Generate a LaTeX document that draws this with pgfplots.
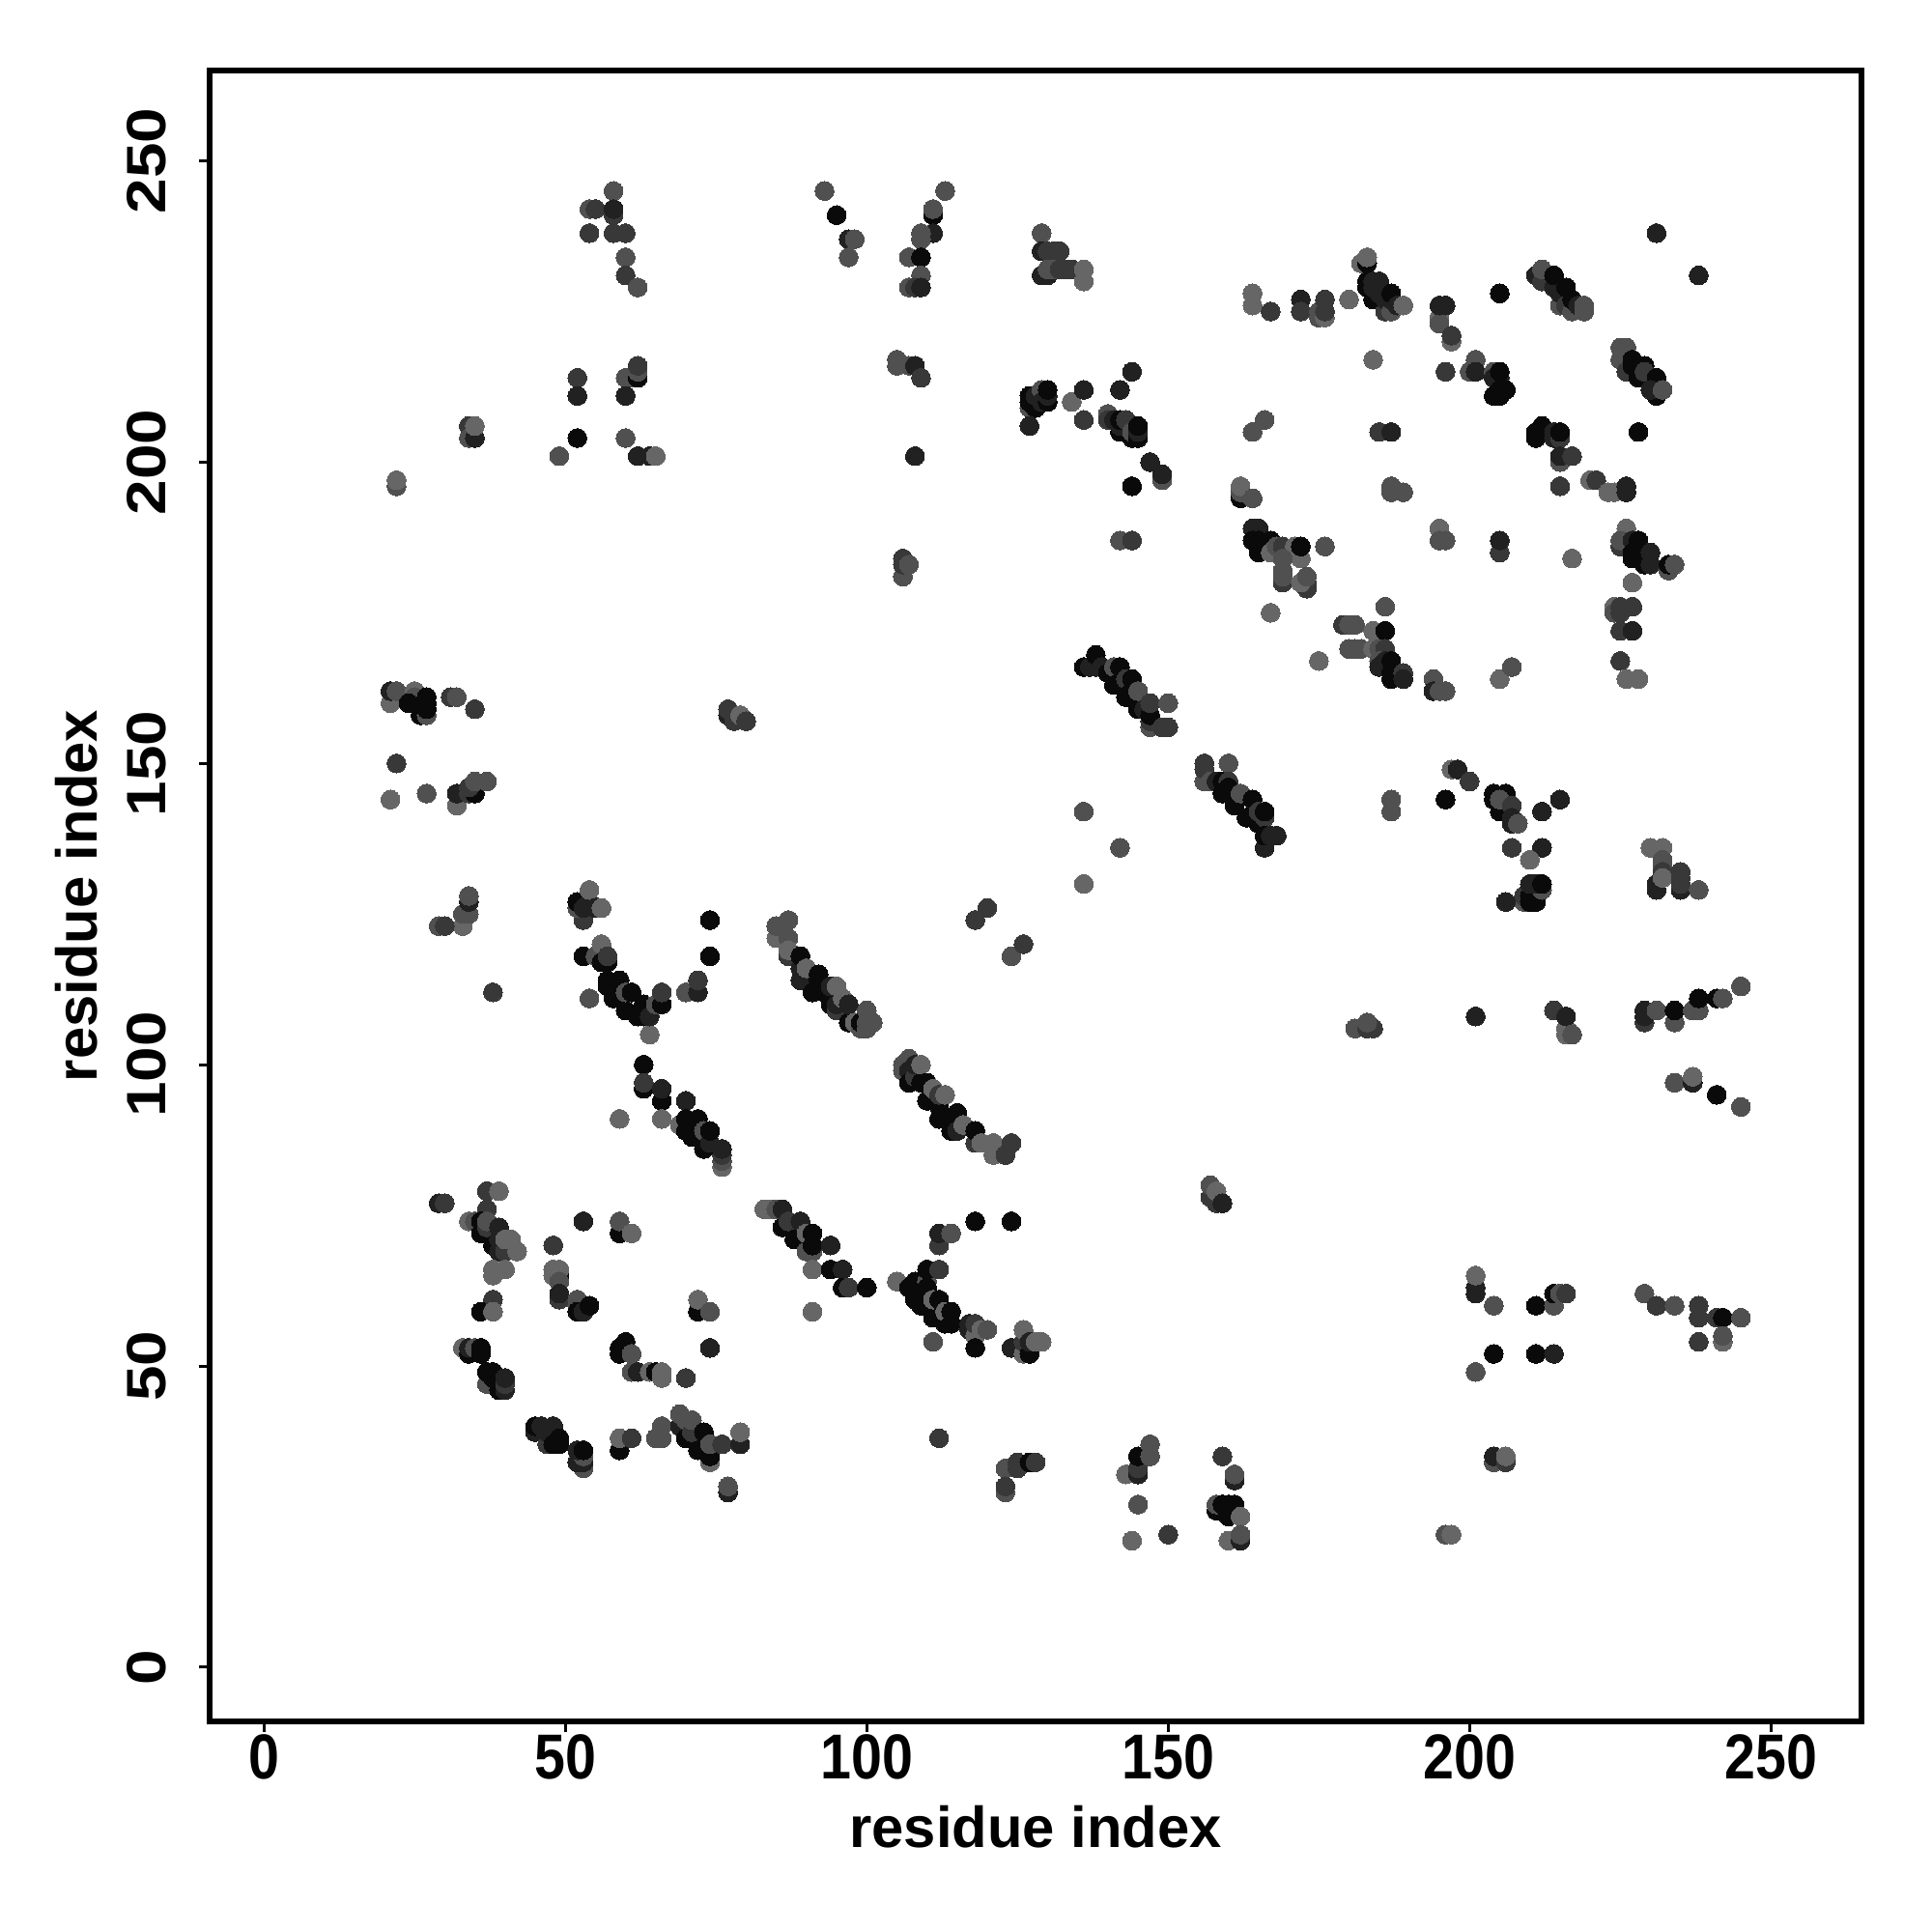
\documentclass[border=0pt]{standalone}
\usepackage{fontspec}
\setmainfont{Liberation Sans}
\usepackage{pgfplots}
\pgfplotsset{compat=1.18}
\begin{document}
\begin{tikzpicture}
\useasboundingbox (-2.17cm,-2.18cm) rectangle (17.83cm,17.82cm);
\begin{axis}[
  scale only axis, width=17.10cm, height=17.09cm,
  xmin=-9, xmax=265, ymin=-9, ymax=265,
  xtick={0,50,100,150,200,250}, ytick={0,50,100,150,200,250},
  axis line style={line width=0.6mm},
  tick align=outside, tick pos=left, major tick length=1.1mm,
  every tick/.style={black,line width=0.3mm},
  /pgf/number format/assume math mode=true,
  tick label style={font=\fontsize{17}{20}\selectfont\bfseries,xscale=0.96,yscale=1.1},
  xticklabel style={anchor=north,yshift=0.10cm},
  yticklabel style={rotate=90,anchor=south,yshift=0.225cm},
  xlabel={residue index}, ylabel={residue index},
  label style={font=\fontsize{17}{20}\selectfont\bfseries},
  xlabel style={at={(axis description cs:0.5,0)},anchor=center,yshift=-1.09cm},
  ylabel style={at={(axis description cs:0,0.5)},anchor=center,yshift=1.38cm},
  colormap={cm}{rgb=(.04,.04,.04) rgb=(.40,.40,.40)},
  point meta min=0, point meta max=4,
]
\addplot[scatter, only marks, mark=*, mark size=2.78pt, point meta=explicit,
  scatter/use mapped color={draw=mapped color, fill=mapped color, line width=0pt}]
  table[meta=g,row sep=\\]{
x y g\\
58 245 3\\ 54 242 3\\ 55 242 2\\ 58 241 2\\ 58 242 1\\ 54 238 2\\ 58 238 2\\ 60 238 2\\ 60 234 3\\ 60 231 2\\ 62 229 3\\
93 245 3\\ 95 241 0\\ 97 237 1\\ 98 237 3\\ 97 234 3\\
52 214 2\\ 52 211 1\\ 60 214 3\\ 61 214 3\\ 62 214 0\\ 62 215 3\\ 62 216 2\\ 60 211 1\\ 52 204 0\\ 60 204 3\\ 49 201 3\\ 62 201 1\\ 64 201 1\\ 65 201 4\\
34 206 2\\ 34 204 3\\ 35 204 1\\ 35 206 4\\ 22 196 3\\ 22 197 4\\
113 245 3\\ 111 241 0\\ 111 242 3\\ 111 238 1\\ 109 237 3\\ 109 238 3\\ 107 234 3\\ 109 234 0\\ 109 231 3\\ 107 229 3\\ 108 229 2\\ 109 229 1\\
105 216 3\\ 105 217 3\\ 107 216 3\\ 108 216 1\\ 109 214 2\\ 106 181 3\\ 106 183 2\\ 106 184 2\\ 107 183 3\\ 108 201 1\\
129 238 3\\ 129 235 1\\ 130 235 2\\ 131 235 2\\ 132 235 2\\ 129 231 1\\ 130 231 1\\ 130 232 3\\ 131 232 3\\ 132 232 2\\ 133 232 2\\ 134 232 2\\ 136 230 4\\ 136 232 4\\
127 209 3\\ 127 210 0\\ 127 211 0\\ 128 209 0\\ 128 211 1\\ 129 212 3\\ 129 210 1\\ 130 210 0\\ 130 211 1\\ 130 212 0\\ 127 206 1\\
134 210 4\\ 136 212 1\\ 136 207 2\\ 144 215 1\\ 142 212 1\\
140 208 3\\ 140 207 2\\ 141 207 1\\ 142 205 0\\ 142 206 1\\ 142 207 0\\ 143 207 2\\ 144 204 0\\ 144 205 3\\ 145 204 0\\ 145 205 1\\ 145 206 0\\
147 200 1\\ 149 197 3\\ 149 198 1\\ 144 196 0\\ 142 187 3\\ 144 187 2\\
231 238 1\\ 238 231 1\\
164 228 4\\ 164 226 4\\ 167 225 2\\ 172 227 1\\ 172 225 2\\ 175 224 3\\ 175 225 3\\ 176 224 4\\ 176 225 2\\ 176 227 2\\ 180 227 4\\
182 233 4\\ 183 233 0\\ 183 234 4\\ 183 229 0\\ 183 230 0\\ 184 227 0\\ 184 229 1\\ 184 230 1\\ 185 229 1\\ 185 230 1\\ 185 228 1\\ 186 225 2\\ 186 227 1\\ 187 225 3\\ 187 227 1\\ 187 228 0\\ 188 226 1\\ 189 226 4\\
205 228 0\\ 195 224 4\\ 195 223 3\\ 195 226 1\\ 196 226 1\\ 197 220 4\\ 197 221 2\\ 184 217 4\\
200 215 3\\ 201 217 3\\ 201 215 1\\ 196 215 2\\ 204 215 3\\ 204 214 1\\ 205 214 1\\ 205 215 0\\ 204 211 0\\ 205 211 0\\ 205 212 0\\ 206 212 0\\
211 231 1\\ 212 230 2\\ 212 232 3\\ 214 229 1\\ 214 231 0\\ 215 226 3\\ 215 228 1\\ 216 226 2\\ 216 229 0\\ 217 225 3\\ 217 227 0\\ 218 226 1\\ 219 225 3\\ 219 226 3\\
225 219 3\\ 226 219 3\\ 225 217 3\\ 226 215 2\\ 227 216 0\\ 227 217 0\\ 228 214 0\\ 229 216 0\\ 229 215 2\\ 231 211 0\\ 231 214 0\\ 230 212 1\\ 232 212 3\\
228 205 0\\ 211 204 0\\ 211 205 0\\ 212 205 0\\ 212 206 0\\ 214 204 1\\ 214 205 1\\ 215 204 2\\ 215 205 0\\ 215 200 3\\ 215 201 1\\ 217 201 2\\ 215 196 2\\ 220 197 4\\ 221 197 2\\ 223 195 4\\ 224 195 4\\ 226 195 1\\ 226 196 1\\
187 196 3\\ 187 195 3\\ 189 195 3\\ 164 205 3\\ 166 207 3\\ 185 205 2\\ 187 205 1\\
162 194 0\\ 162 195 3\\ 162 196 4\\ 164 194 3\\
164 189 1\\ 165 189 1\\ 164 187 0\\ 165 187 0\\ 165 185 0\\ 167 187 0\\ 167 185 4\\ 168 186 3\\ 169 186 2\\ 171 186 4\\ 172 184 4\\ 172 186 0\\ 169 184 3\\ 169 180 2\\ 169 181 3\\ 169 182 3\\ 173 179 2\\ 173 180 2\\ 172 180 4\\ 173 181 3\\ 176 186 3\\ 167 175 4\\
195 189 4\\ 195 187 3\\ 196 187 3\\ 205 185 2\\ 205 187 1\\ 217 184 4\\
226 189 4\\ 225 186 2\\ 225 187 3\\ 227 187 1\\ 228 187 0\\ 227 184 0\\ 227 185 0\\ 228 185 0\\ 229 183 0\\ 230 183 1\\ 230 185 1\\ 233 182 3\\ 233 183 0\\ 234 183 3\\ 227 180 4\\
224 176 4\\ 224 175 3\\ 225 176 2\\ 225 175 2\\ 227 176 2\\ 225 172 2\\ 227 172 1\\ 225 167 2\\ 226 164 4\\ 228 164 4\\
194 164 3\\ 194 162 1\\ 195 162 3\\ 196 162 3\\ 205 164 4\\ 207 166 3\\
179 173 2\\ 180 173 3\\ 181 173 3\\ 180 169 3\\ 181 169 3\\ 182 169 3\\ 184 172 4\\ 186 176 3\\ 186 172 0\\ 184 169 4\\ 185 169 3\\ 186 169 2\\ 185 167 3\\ 185 166 1\\ 186 167 1\\ 187 167 0\\ 187 165 0\\ 187 164 0\\ 189 165 2\\ 189 164 1\\ 175 167 4\\
136 166 0\\ 137 166 1\\ 138 166 1\\ 138 168 0\\ 139 166 1\\ 140 165 0\\ 141 166 3\\ 141 163 0\\ 142 166 0\\ 143 161 0\\ 143 164 2\\ 144 162 0\\ 144 164 0\\ 145 159 0\\ 145 162 3\\ 146 159 1\\ 147 156 3\\ 147 157 2\\ 147 158 0\\ 147 160 2\\ 150 160 3\\ 149 156 2\\ 150 156 2\\
156 147 3\\ 156 149 2\\ 156 150 2\\ 157 147 3\\ 160 150 3\\ 158 147 1\\ 159 145 0\\ 159 147 0\\ 160 147 2\\ 160 146 0\\ 161 143 0\\ 162 145 3\\ 163 141 0\\ 164 144 0\\ 165 140 0\\ 165 142 2\\ 166 141 2\\ 166 142 0\\ 166 136 1\\ 166 138 0\\ 167 138 1\\ 168 138 1\\
136 142 3\\ 142 136 3\\ 136 130 4\\
187 144 3\\ 187 142 3\\ 197 149 4\\ 198 149 1\\ 200 147 2\\ 196 144 0\\
204 145 0\\ 204 144 0\\ 205 142 0\\ 206 145 0\\ 205 144 3\\ 207 143 2\\ 207 140 1\\ 207 141 1\\ 208 140 3\\ 212 142 1\\ 215 144 1\\ 207 136 2\\ 212 136 1\\ 210 134 4\\
209 127 3\\ 209 128 2\\ 210 127 0\\ 210 128 0\\ 211 127 0\\ 211 128 0\\ 212 129 3\\ 210 130 1\\ 211 130 1\\ 212 130 0\\ 206 127 1\\
230 136 4\\ 232 136 4\\ 232 134 3\\ 232 133 3\\ 232 132 2\\ 231 129 1\\ 231 130 1\\ 232 131 4\\ 235 129 1\\ 235 130 2\\ 235 131 2\\ 235 132 2\\ 238 129 3\\
181 106 3\\ 184 106 2\\ 183 106 2\\ 183 107 3\\ 201 108 1\\ 214 109 2\\ 216 105 4\\ 216 106 4\\ 216 108 1\\ 217 105 3\\
229 107 2\\ 229 108 1\\ 229 109 1\\ 231 109 3\\ 234 107 3\\ 234 109 0\\ 237 109 3\\ 238 109 3\\ 238 111 0\\ 241 111 0\\ 242 111 3\\ 245 113 3\\
234 97 3\\ 237 97 1\\ 237 98 4\\ 241 95 0\\ 245 93 3\\
21 160 4\\ 21 162 1\\ 22 162 3\\ 25 162 4\\ 25 161 3\\ 24 160 0\\ 26 158 0\\ 27 158 3\\ 27 159 0\\ 27 160 0\\ 27 161 0\\ 31 161 2\\ 32 161 3\\ 35 159 2\\
22 150 2\\ 21 144 4\\ 27 145 3\\ 32 143 4\\ 32 145 1\\ 34 145 2\\ 35 145 0\\ 34 146 2\\ 35 147 3\\ 37 147 3\\
77 158 1\\ 77 159 2\\ 78 157 2\\ 79 158 4\\ 80 157 2\\
33 123 4\\ 33 125 3\\ 34 125 3\\ 34 127 1\\ 34 128 3\\ 29 123 3\\ 30 123 2\\ 38 112 2\\
53 124 2\\ 52 126 3\\ 52 127 0\\ 53 126 1\\ 54 127 1\\ 54 129 4\\ 55 126 1\\ 56 126 4\\
53 118 0\\ 55 118 3\\ 56 117 0\\ 56 120 4\\ 57 117 0\\ 57 118 2\\
57 113 0\\ 57 114 0\\ 58 111 0\\ 59 114 0\\ 60 109 0\\ 60 112 3\\ 61 112 0\\ 62 108 0\\ 63 108 0\\ 63 110 0\\ 64 105 4\\ 64 108 1\\ 54 111 3\\
65 110 3\\ 66 110 0\\ 66 112 2\\ 70 112 3\\ 72 112 1\\ 72 114 2\\ 74 118 0\\ 74 124 0\\
63 100 0\\ 63 96 0\\ 63 97 2\\ 66 94 0\\ 66 96 1\\ 70 94 1\\ 59 91 4\\ 66 91 4\\ 69 90 4\\ 70 89 0\\ 70 91 0\\ 71 88 0\\ 72 90 0\\ 72 91 0\\ 73 86 0\\ 73 87 0\\ 73 89 3\\ 74 87 1\\ 74 89 0\\ 76 83 4\\ 76 84 3\\ 76 85 2\\ 76 86 1\\
85 121 4\\ 87 121 3\\ 85 123 3\\ 87 124 3\\ 87 118 2\\ 87 119 4\\
89 114 1\\ 89 116 1\\ 89 118 0\\ 90 116 4\\ 91 112 0\\ 92 114 0\\ 92 115 0\\ 93 112 0\\ 94 110 0\\ 94 113 1\\ 95 113 4\\ 95 109 2\\ 95 110 1\\ 96 111 4\\ 97 107 0\\ 97 110 1\\ 98 107 4\\ 99 106 3\\ 99 107 0\\ 100 106 3\\ 100 107 3\\ 100 109 3\\ 101 107 3\\
106 99 3\\ 106 100 3\\ 107 101 3\\ 107 99 1\\ 107 97 0\\ 108 98 2\\ 108 100 1\\ 109 97 0\\ 109 100 4\\ 110 94 0\\ 110 97 0\\ 111 96 4\\ 112 91 0\\ 112 93 0\\ 112 95 2\\ 113 95 4\\ 114 89 0\\ 114 91 0\\ 115 89 1\\ 115 92 0\\ 116 90 4\\ 118 87 2\\ 118 89 0\\ 119 87 4\\ 121 85 4\\ 121 87 4\\ 123 85 2\\ 124 87 2\\
118 124 2\\ 120 126 2\\ 124 118 3\\ 126 120 2\\
157 78 2\\ 157 80 3\\ 158 77 2\\ 158 79 4\\ 159 77 1\\
83 76 4\\ 84 76 4\\ 85 76 3\\ 86 73 0\\ 86 76 1\\ 87 74 2\\ 88 71 0\\ 89 74 1\\ 90 69 3\\ 90 72 4\\ 91 69 3\\ 91 70 0\\ 91 72 0\\ 94 70 1\\ 91 66 4\\ 94 66 0\\ 96 66 1\\ 96 63 0\\ 97 63 2\\ 100 63 0\\ 91 59 4\\
118 74 0\\ 124 74 0\\ 112 70 2\\ 112 72 1\\ 114 72 3\\
105 64 4\\ 107 63 0\\ 108 61 0\\ 108 62 0\\ 108 64 0\\ 109 60 0\\ 110 64 3\\ 110 63 0\\ 110 66 0\\ 112 66 2\\ 111 58 0\\ 111 61 4\\ 112 61 0\\ 113 57 0\\ 113 59 4\\ 114 57 0\\ 114 59 0\\ 111 54 3\\
117 56 1\\ 117 57 1\\ 118 55 4\\ 118 57 2\\ 119 56 4\\ 120 56 3\\ 118 53 0\\
124 53 1\\ 126 52 4\\ 126 54 2\\ 126 56 4\\ 127 52 0\\ 127 54 1\\ 128 54 4\\ 129 54 4\\
29 77 1\\ 30 77 2\\ 37 79 2\\ 39 79 4\\ 37 76 2\\
34 74 4\\ 35 74 3\\ 36 72 0\\ 36 74 0\\ 37 73 2\\ 37 74 3\\ 38 70 0\\ 39 69 1\\ 39 71 1\\ 39 73 1\\ 40 69 2\\ 40 71 4\\ 41 71 4\\ 42 69 4\\
38 65 4\\ 38 66 4\\ 40 66 4\\ 38 61 2\\ 36 59 0\\ 38 59 4\\
53 74 1\\ 59 72 0\\ 59 74 3\\ 61 72 4\\ 48 70 2\\
48 65 4\\ 49 65 0\\ 48 66 4\\ 49 66 4\\ 49 64 3\\ 49 61 2\\ 49 62 1\\ 52 60 3\\ 52 61 3\\ 52 59 0\\ 53 59 1\\ 54 60 0\\
72 59 0\\ 72 61 4\\ 74 59 3\\ 74 53 1\\
33 53 4\\ 34 52 0\\ 34 53 1\\ 35 53 3\\ 36 52 0\\ 36 53 0\\
37 47 3\\ 37 49 0\\ 38 48 0\\ 38 49 0\\ 39 46 0\\ 40 46 1\\ 40 47 2\\ 40 48 1\\
59 52 0\\ 59 53 0\\ 60 54 0\\ 61 52 3\\ 61 49 3\\ 62 49 1\\ 64 49 4\\ 65 49 0\\ 66 48 4\\ 66 49 4\\ 70 48 2\\
45 39 1\\ 45 40 0\\ 46 40 1\\ 47 37 2\\ 47 39 1\\ 48 37 0\\ 48 40 1\\ 49 37 0\\ 49 38 0\\
53 33 3\\ 52 34 1\\ 53 34 1\\ 53 35 3\\ 52 36 1\\ 53 36 0\\
59 36 0\\ 59 38 4\\ 61 38 2\\ 66 40 3\\ 65 38 3\\ 66 38 3\\
69 40 1\\ 69 42 3\\ 70 38 0\\ 70 41 3\\ 71 39 2\\ 71 41 3\\ 72 36 0\\ 73 39 0\\ 74 34 4\\ 74 35 0\\ 74 37 3\\ 76 37 2\\ 79 37 1\\ 79 39 4\\ 77 29 1\\ 77 30 3\\ 112 38 2\\
123 33 3\\ 125 33 2\\ 125 34 2\\ 127 34 0\\ 128 34 2\\ 123 29 3\\ 123 30 2\\
143 32 4\\ 145 32 1\\ 145 33 2\\ 145 35 0\\ 147 35 3\\ 147 37 3\\ 145 27 3\\ 144 21 4\\ 150 22 2\\
159 35 2\\ 161 31 1\\ 161 32 3\\ 158 26 0\\ 158 27 3\\ 159 27 0\\ 160 25 0\\ 160 26 0\\ 160 27 0\\ 161 27 0\\ 162 25 4\\ 160 21 4\\ 162 21 1\\ 162 22 3\\
201 62 1\\ 201 63 1\\ 201 65 4\\ 204 60 3\\ 211 60 0\\ 214 60 3\\ 214 62 0\\ 215 62 3\\ 216 62 2\\ 204 52 0\\ 211 52 0\\ 214 52 1\\ 201 49 3\\
229 62 3\\ 231 60 2\\ 234 60 3\\ 238 60 2\\ 238 58 2\\ 241 58 2\\ 242 58 0\\ 245 58 3\\ 238 54 2\\ 242 54 4\\ 242 55 3\\
204 34 3\\ 204 35 1\\ 206 34 2\\ 206 35 4\\ 196 22 3\\ 197 22 4\\
};
\end{axis}
\end{tikzpicture}
\end{document}
